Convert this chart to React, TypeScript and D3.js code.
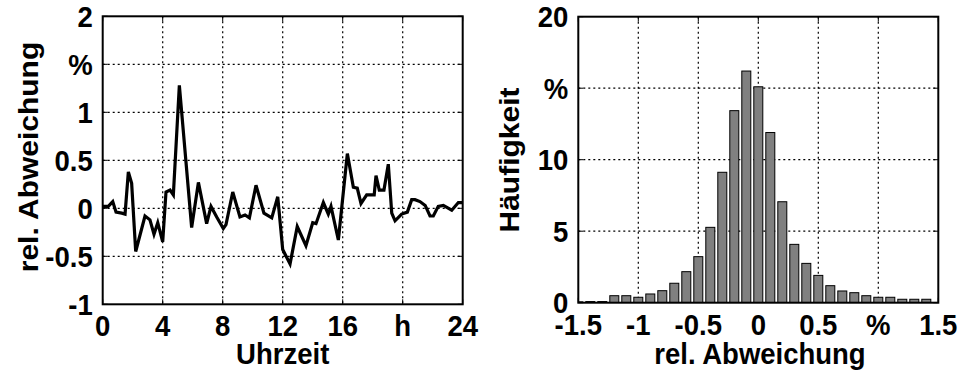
import React from "react";
import * as d3 from "d3";

const hours = [0,0.37,0.67,0.89,1.27,1.49,1.71,1.93,2.2,2.82,3.15,3.42,3.67,4.0,4.22,4.49,4.71,5.11,5.93,6.38,6.93,7.22,7.6,8.04,8.22,8.67,9.15,9.49,9.78,10.22,10.75,11.27,11.67,12.0,12.49,12.97,13.55,14.0,14.22,14.71,15.04,15.22,15.71,16.31,16.71,16.97,17.22,17.6,18.1,18.22,18.44,18.75,19.04,19.27,19.49,19.93,20.31,20.6,20.82,21.15,21.5,21.82,22.04,22.37,22.71,23.27,23.71,24.0];
const deviation = [0.02,0.02,0.07,-0.04,-0.05,-0.06,0.38,0.26,-0.45,-0.08,-0.12,-0.27,-0.15,-0.35,0.17,0.19,0.14,1.28,-0.2,0.27,-0.16,0.02,-0.09,-0.21,-0.17,0.17,-0.09,-0.07,-0.1,0.24,-0.05,-0.1,0.12,-0.43,-0.58,-0.19,-0.39,-0.15,-0.16,0.06,-0.06,0.02,-0.33,0.57,0.22,0.21,0.05,0.14,0.14,0.34,0.19,0.19,0.46,-0.05,-0.13,-0.06,-0.04,0.09,0.09,0.07,0.03,-0.08,-0.08,0.02,0.03,-0.02,0.06,0.06];

const binCenters = [-1.5,-1.4,-1.3,-1.2,-1.1,-1.0,-0.9,-0.8,-0.7,-0.6,-0.5,-0.4,-0.3,-0.2,-0.1,0,0.1,0.2,0.3,0.4,0.5,0.6,0.7,0.8,0.9,1.0,1.1,1.2,1.3,1.4];
const frequency = [0.06,0.08,0.08,0.49,0.49,0.38,0.61,0.84,1.36,2.17,3.22,5.27,9.12,13.43,16.2,15.1,11.9,7.06,4.08,2.75,1.91,1.19,0.82,0.7,0.49,0.38,0.38,0.24,0.24,0.24];

const leftXTicks = [0,4,8,12,16,20,24];
const leftXLabels = ["0","4","8","12","16","h","24"];
const leftYTicks = [-1,-0.5,0,0.5,1,1.5,2];
const leftYLabels = ["-1","-0.5","0","0.5","1","%","2"];
const rightXTicks = [-1.5,-1,-0.5,0,0.5,1,1.5];
const rightXLabels = ["-1.5","-1","-0.5","0","0.5","%","1.5"];
const rightYTicks = [0,5,10,15,20];
const rightYLabels = ["0","5","10","%","20"];

const FONT = "'Liberation Sans', Arial, sans-serif";
const FS = 30;
const SX = 0.917;

function HText({ x, y, anchor, children }: any) {
  return (
    <text transform={`translate(${x},${y}) scale(${SX},1)`} textAnchor={anchor} fontFamily={FONT} fontWeight="bold" fontSize={FS}>{children}</text>
  );
}

function VText({ x, y, children }: any) {
  return (
    <text transform={`translate(${x},${y}) rotate(-90) scale(1,${SX})`} textAnchor="middle" fontFamily={FONT} fontWeight="bold" fontSize={FS}>{children}</text>
  );
}

function Frame({ x, y, xt, yt, xl, yl }: any) {
  const [x0, x1] = x.range();
  const [y0, y1] = y.range();
  const top = Math.min(y0, y1), bot = Math.max(y0, y1);
  return (
    <g>
      {xt.map((t: number, i: number) => {
        const px = x(t);
        const inner = i > 0 && i < xt.length - 1;
        return (
          <g key={"x" + i}>
            {inner && <line x1={px} x2={px} y1={top} y2={bot} stroke="#000" strokeWidth={1.2} strokeDasharray="2,3" />}
            <line x1={px} x2={px} y1={bot} y2={bot - 5} stroke="#000" strokeWidth={1} />
            <line x1={px} x2={px} y1={top} y2={top + 5} stroke="#000" strokeWidth={1} />
            <HText x={px} y={bot + 32} anchor="middle">{xl[i]}</HText>
          </g>
        );
      })}
      {yt.map((t: number, i: number) => {
        const py = y(t);
        const inner = i > 0 && i < yt.length - 1;
        return (
          <g key={"y" + i}>
            {inner && <line x1={x0} x2={x1} y1={py} y2={py} stroke="#000" strokeWidth={1.2} strokeDasharray="2,3" />}
            <line x1={x0} x2={x0 + 5} y1={py} y2={py} stroke="#000" strokeWidth={1} />
            <line x1={x1} x2={x1 - 5} y1={py} y2={py} stroke="#000" strokeWidth={1} />
            <HText x={x0 - 10} y={py + 10.5} anchor="end">{yl[i]}</HText>
          </g>
        );
      })}
    </g>
  );
}

function Border({ x, y }: any) {
  const [x0, x1] = x.range();
  const [y0, y1] = y.range();
  const top = Math.min(y0, y1), bot = Math.max(y0, y1);
  return <rect x={x0} y={top} width={x1 - x0} height={bot - top} fill="none" stroke="#000" strokeWidth={2} />;
}

export default function App() {
  const xL = d3.scaleLinear().domain([0, 24]).range([102.7, 462.7]);
  const yL = d3.scaleLinear().domain([-1, 2]).range([304.3, 16.3]);
  const xR = d3.scaleLinear().domain([-1.5, 1.5]).range([578.3, 938.3]);
  const yR = d3.scaleLinear().domain([0, 20]).range([302.7, 16.7]);

  const line = d3.line<number>().x((_, i) => xL(hours[i])).y((d) => yL(d));
  const halfW = 0.0375;

  return (
    <svg width={959} height={372} style={{ position: "absolute", left: 0, top: 0, background: "#fff" }}>
      <rect x={0} y={0} width={959} height={372} fill="#fff" />
      <defs>
        <clipPath id="clipR">
          <rect x={578.3} y={16.7} width={360} height={286} />
        </clipPath>
      </defs>
      {/* left panel */}
      <Frame x={xL} y={yL} xt={leftXTicks} yt={leftYTicks} xl={leftXLabels} yl={leftYLabels} />
      <path d={line(deviation) || ""} fill="none" stroke="#000" strokeWidth={3.2} strokeLinejoin="miter" />
      <Border x={xL} y={yL} />
      <HText x={282.7} y={364} anchor="middle">Uhrzeit</HText>
      <VText x={38} y={157}>rel. Abweichung</VText>

      {/* right panel */}
      <Frame x={xR} y={yR} xt={rightXTicks} yt={rightYTicks} xl={rightXLabels} yl={rightYLabels} />
      <g clipPath="url(#clipR)">
        {binCenters.map((c, i) => (
          <rect key={i} x={xR(c - halfW)} y={yR(frequency[i])} width={xR(c + halfW) - xR(c - halfW)} height={yR(0) - yR(frequency[i])} fill="#808080" stroke="#000" strokeWidth={1} />
        ))}
      </g>
      <Border x={xR} y={yR} />
      <HText x={760} y={364} anchor="middle">rel. Abweichung</HText>
      <VText x={519} y={160}>Häufigkeit</VText>
    </svg>
  );
}
